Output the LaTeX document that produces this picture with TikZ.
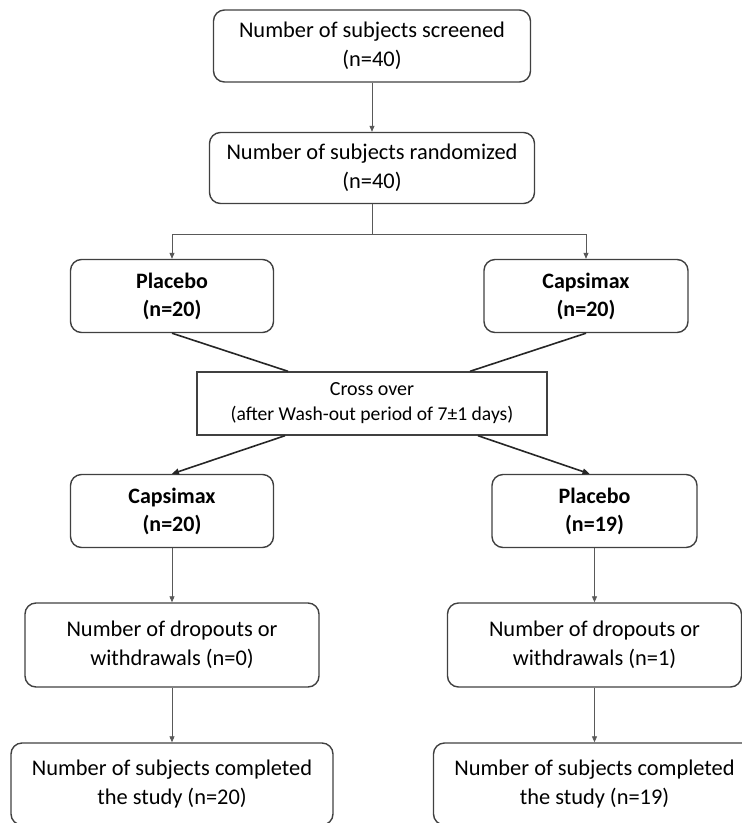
\documentclass[tikz,border=0pt]{standalone}
\usepackage{fontspec}
\setmainfont{Carlito}
\usetikzlibrary{arrows.meta}

\tikzset{
  box/.style={draw=black!75, line width=1.4pt, rounded corners=11pt, align=center,
    inner sep=0pt, font=\fontsize{22.4}{29}\selectfont},
  armbox/.style={box, font=\fontsize{22}{28}\selectfont\bfseries,
    minimum width=203, minimum height=73},
  crossbox/.style={draw=black!75, line width=1.4pt, align=center, inner sep=0pt,
    font=\fontsize{19.6}{25}\selectfont, minimum width=350, minimum height=63},
  thinarrow/.style={draw=black!65, line width=0.8pt, -{Triangle[length=6pt,width=5pt]}},
  crossline/.style={draw=black!85, line width=1.6pt},
  crossarrow/.style={crossline, -{Triangle[length=7pt,width=6pt]}}
}

\begin{document}
\begin{tikzpicture}[x=1pt,y=-1pt]
\useasboundingbox (0,0) rectangle (742,823);
\clip (0,0) rectangle (742,823);

% Screening and randomisation
\node[box, minimum width=317, minimum height=72] (screen) at (372,46)
  {Number of subjects screened\\(n=40)};
\node[box, minimum width=325, minimum height=71] (rand) at (372,168)
  {Number of subjects randomized\\(n=40)};

% First period
\node[armbox] (placA) at (172,296) {Placebo\\(n=20)};
\node[armbox, minimum width=204] (capsA) at (586,296) {Capsimax\\(n=20)};

% Wash-out
\node[crossbox] (cross) at (372,403.5)
  {{\fontsize{20}{25}\selectfont Cross over}\\(after Wash-out period of 7\textpm1 days)};

% Second period
\node[armbox] (capsB) at (172,511) {Capsimax\\(n=20)};
\node[armbox, minimum width=205] (placB) at (594.5,511) {Placebo\\(n=19)};

% Dropouts
\node[box, minimum width=294, minimum height=84] (dropA) at (172,645)
  {Number of dropouts or\\withdrawals (n=0)};
\node[box, minimum width=294, minimum height=84] (dropB) at (594.5,645)
  {Number of dropouts or\\withdrawals (n=1)};

% Completers
\node[box, minimum width=322, minimum height=82] (compA) at (172,784)
  {Number of subjects completed\\the study (n=20)};
\node[box, minimum width=322, minimum height=82] (compB) at (594.5,784)
  {Number of subjects completed\\the study (n=19)};

% Connectors
\draw[thinarrow] (screen.south) -- (rand.north);
\draw[thinarrow] (rand.south) -- ++(0,30) -| (placA.north);
\draw[thinarrow] (rand.south) -- ++(0,30) -| (capsA.north);

\draw[crossline] (placA.south) -- ([xshift=-84]cross.north);
\draw[crossline] (capsA.south) -- ([xshift=98]cross.north);
\draw[crossarrow] ([xshift=-87]cross.south) -- (capsB.north);
\draw[crossarrow] ([xshift=106]cross.south) -- ([xshift=-5]placB.north);

\draw[thinarrow] (capsB.south) -- (dropA.north);
\draw[thinarrow] (dropA.south) -- (compA.north);
\draw[thinarrow] (placB.south) -- (dropB.north);
\draw[thinarrow] (dropB.south) -- (compB.north);

\end{tikzpicture}
\end{document}
